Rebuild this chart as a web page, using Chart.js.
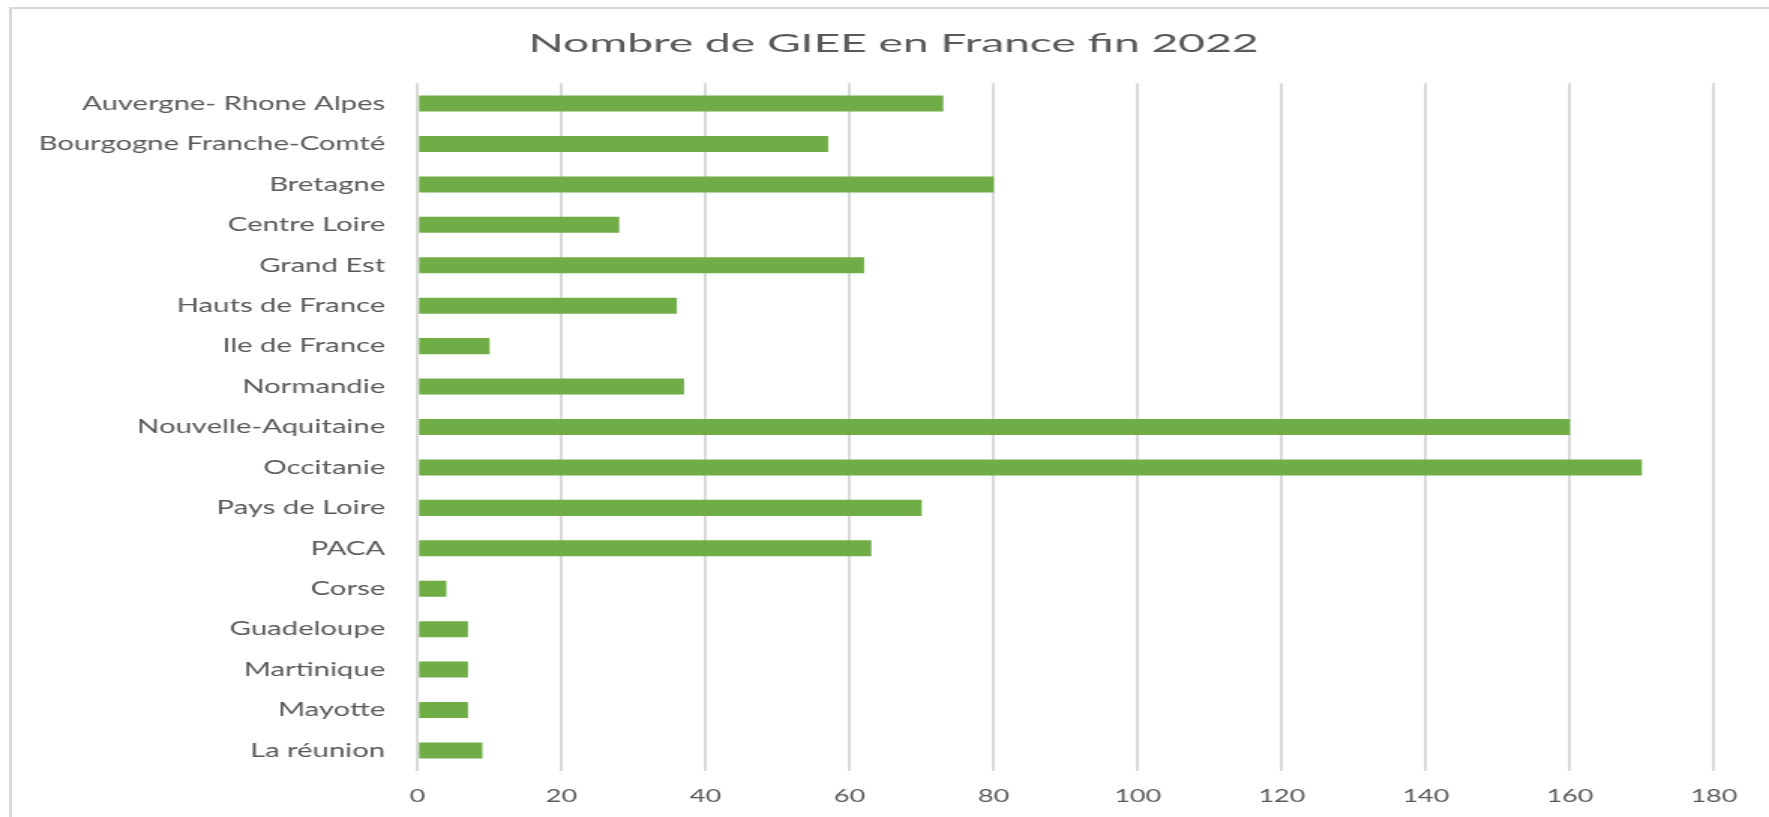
<!DOCTYPE html>
<html>
<head>
<meta charset="utf-8">
<title>Nombre de GIEE en France fin 2022</title>
<script src="https://cdn.jsdelivr.net/npm/chart.js@4/dist/chart.umd.min.js"></script>
<style>
    html, body { margin: 0; padding: 0; background: #fff; overflow: hidden; }
    #frame {
        position: absolute; left: 9px; top: 7px; width: 1800px; height: 900px;
        border-left: 3px solid #d9d9d9; border-top: 2px solid #d9d9d9;
    }
    /* le graphique d'origine est étiré horizontalement */
    #wrap {
        position: absolute; left: 0; top: 0; width: 1179px; height: 817px;
        transform: scaleX(1.5004); transform-origin: 0 0;
    }
</style>
</head>
<body>
<div id="frame"></div>
<div id="wrap"><canvas id="giee-chart"></canvas></div>
<script>
// Données
const titre = 'Nombre de GIEE en France fin 2022';
const regions = [
    'Auvergne- Rhone Alpes', 'Bourgogne Franche-Comté', 'Bretagne', 'Centre Loire',
    'Grand Est', 'Hauts de France', 'Ile de France', 'Normandie', 'Nouvelle-Aquitaine',
    'Occitanie', 'Pays de Loire', 'PACA', 'Corse', 'Guadeloupe', 'Martinique',
    'Mayotte', 'La réunion'
];
const nombreGiee = [73, 57, 80, 28, 62, 36, 10, 37, 160, 170, 70, 63, 4, 7, 7, 7, 9];
const ticksX = [0, 20, 40, 60, 80, 100, 120, 140, 160, 180];

const gris = '#595959';

// Titre dessiné à la main (un peu plus étiré que le reste)
const titrePlugin = {
    id: 'titreEtire',
    afterDraw(chart) {
        const ctx = chart.ctx;
        ctx.save();
        ctx.font = '25px Lato';
        ctx.fillStyle = gris;
        ctx.textAlign = 'center';
        ctx.textBaseline = 'alphabetic';
        ctx.translate(595.5, 51.5);
        ctx.scale(1.23, 1);
        ctx.fillText(titre, 0, 0);
        ctx.restore();
    }
};

const ctx = document.getElementById('giee-chart').getContext('2d');

window.gieeChart = new Chart(ctx, {
    type: 'bar',
    data: {
        labels: regions,
        datasets: [
            {
                label: 'GIEE',
                data: nombreGiee,
                backgroundColor: '#70ad47',
                borderWidth: 0,
                barPercentage: 0.396,
                categoryPercentage: 1
            }
        ]
    },
    options: {
        indexAxis: 'y',
        responsive: true,
        maintainAspectRatio: false,
        animation: false,
        layout: {
            padding: { top: 83.3, left: 0, right: 36.7, bottom: 0 }
        },
        scales: {
            x: {
                min: 0,
                max: 180,
                afterBuildTicks: function (scale) {
                    scale.ticks = ticksX.map(v => ({ value: v }));
                },
                afterFit: function (scale) {
                    scale.height = 46.3;
                },
                grid: {
                    color: '#d9d9d9',
                    lineWidth: 2,
                    drawTicks: false
                },
                border: { display: false },
                ticks: {
                    color: gris,
                    padding: 15,
                    font: { family: 'Lato', size: 18 }
                }
            },
            y: {
                afterFit: function (scale) {
                    scale.width = 278.3;
                },
                grid: { display: false, drawTicks: false },
                border: { display: false },
                ticks: {
                    color: gris,
                    padding: 21.6,
                    autoSkip: false,
                    font: { family: 'Lato', size: 19.5 }
                }
            }
        },
        plugins: {
            legend: { display: false },
            title: { display: false },
            tooltip: { enabled: false }
        }
    },
    plugins: [titrePlugin]
});
</script>
</body>
</html>
